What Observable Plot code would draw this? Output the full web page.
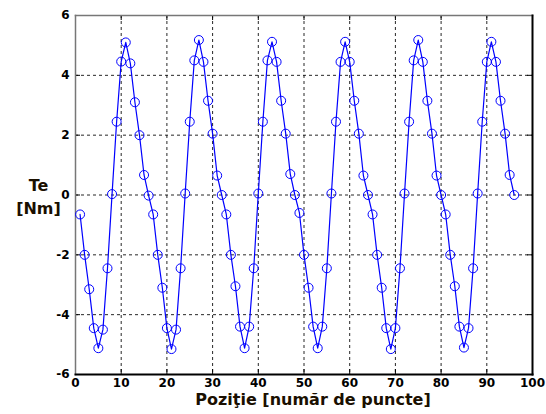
<!DOCTYPE html>
<html>
<head>
<meta charset="utf-8">
<script src="https://cdn.jsdelivr.net/npm/d3@7"></script>
<script src="https://cdn.jsdelivr.net/npm/@observablehq/plot@0.6"></script>
<style>
html,body{margin:0;padding:0;background:#fff;}
</style>
</head>
<body>
<div id="chart"></div>
<script>
const positions = d3.range(1, 97);
const torque = [
  -0.65, -2.0, -3.15, -4.45, -5.12, -4.5, -2.45, 0.03, 2.45, 4.46, 5.1, 4.4, 3.1, 2.0, 0.67, -0.02,
  -0.65, -2.0, -3.1, -4.45, -5.15, -4.5, -2.45, 0.05, 2.45, 4.5, 5.18, 4.45, 3.15, 2.05, 0.65, 0.0,
  -0.65, -2.0, -3.05, -4.4, -5.12, -4.4, -2.45, 0.05, 2.45, 4.5, 5.12, 4.45, 3.15, 2.05, 0.7, 0.0,
  -0.6, -2.0, -3.1, -4.4, -5.12, -4.4, -2.45, 0.05, 2.45, 4.45, 5.12, 4.45, 3.15, 2.05, 0.65, 0.0,
  -0.65, -2.0, -3.1, -4.45, -5.15, -4.45, -2.45, 0.05, 2.45, 4.5, 5.18, 4.45, 3.15, 2.05, 0.65, 0.0,
  -0.65, -2.0, -3.05, -4.4, -5.1, -4.45, -2.45, 0.05, 2.45, 4.45, 5.12, 4.45, 3.15, 2.05, 0.67, 0.0
];
const xTicks = [0, 10, 20, 30, 40, 50, 60, 70, 80, 90, 100];
const yTicks = [-6, -4, -2, 0, 2, 4, 6];
const xGrid = [10, 20, 30, 40, 50, 60, 70, 80, 90];
const yGrid = [-4, -2, 0, 2, 4];
const xLabel = "Poziţie [număr de puncte]";
const yLabel = "Te\n[Nm]";

const data = positions.map((p, i) => ({x: p, y: torque[i]}));

const W = 546, H = 414;
const mL = 75, mR = 14, mT = 15, mB = 40;
const plotH = H - mT - mB;
const plotW = W - mL - mR;

const chart = Plot.plot({
  width: W,
  height: H,
  marginLeft: mL,
  marginRight: mR,
  marginTop: mT,
  marginBottom: mB,
  style: {fontFamily: "'DejaVu Sans', sans-serif", background: "#fff", overflow: "visible"},
  x: {domain: [0, 100]},
  y: {domain: [-6, 6]},
  marks: [
    Plot.ruleX(xGrid, {stroke: "#000", strokeWidth: 1, strokeDasharray: "3,3", strokeOpacity: 0.85}),
    Plot.ruleY(yGrid, {stroke: "#000", strokeWidth: 1, strokeDasharray: "3,3", strokeOpacity: 0.85}),
    Plot.tickX(xTicks, {x: d => d, insetTop: plotH - 5, stroke: "#000"}),
    Plot.tickX(xTicks, {x: d => d, insetBottom: plotH - 5, stroke: "#000"}),
    Plot.tickY(yTicks, {y: d => d, insetRight: plotW - 5, stroke: "#000"}),
    Plot.tickY(yTicks, {y: d => d, insetLeft: plotW - 5, stroke: "#000"}),
    Plot.axisX(xTicks, {tickSize: 0, tickPadding: 4, fontWeight: "bold", fontSize: 12, label: null, fill: "#000", tickFormat: d => String(d)}),
    Plot.axisY(yTicks, {tickSize: 0, tickPadding: 6, fontWeight: "bold", fontSize: 12, label: null, fill: "#000", tickFormat: d => String(d)}),
    Plot.frame({anchor: "left", stroke: "#777", strokeWidth: 1.5}),
    Plot.frame({anchor: "top", stroke: "#777", strokeWidth: 1.5}),
    Plot.frame({anchor: "right", stroke: "#000", strokeWidth: 2}),
    Plot.frame({anchor: "bottom", stroke: "#000", strokeWidth: 2}),
    Plot.line(data, {x: "x", y: "y", stroke: "#0000ff", strokeWidth: 1.2}),
    Plot.dot(data, {x: "x", y: "y", r: 4.5, stroke: "#0000ff", fill: "none", strokeWidth: 1}),
    Plot.text([yLabel], {text: d => d, frameAnchor: "left", textAnchor: "middle", dx: -37, fontWeight: "bold", fontSize: 16, fill: "#1a0f00", lineHeight: 1.45}),
    Plot.text([xLabel], {text: d => d, frameAnchor: "bottom", dx: 9, dy: 30, fontWeight: "bold", fontSize: 16, fill: "#1a0f00"})
  ]
});
document.getElementById("chart").appendChild(chart);
</script>
</body>
</html>
